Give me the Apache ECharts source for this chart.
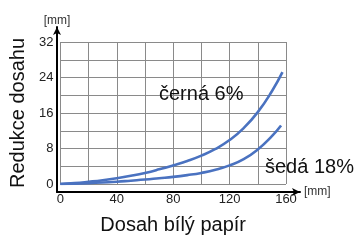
<!DOCTYPE html>
<html>
<head>
<meta charset="utf-8">
<script src="https://cdn.jsdelivr.net/npm/echarts@6/dist/echarts.min.js"></script>
<style>
  html, body { margin: 0; padding: 0; background: #fff; }
  #chart { width: 360px; height: 240px; }
</style>
</head>
<body>
<div id="chart"></div>
<script>
const xTicks = [0, 40, 80, 120, 160];
const yTicks = [0, 8, 16, 24, 32];
const blackX = [0, 10, 20, 30, 40, 50, 60, 70, 80, 90, 100, 110, 120, 130, 140, 150, 157.5];
const blackY = [0, 0.2, 0.5, 0.85, 1.3, 1.85, 2.5, 3.3, 4.2, 5.2, 6.4, 7.9, 9.9, 12.6, 16.2, 20.9, 25.2];
const greyX = [0, 10, 20, 30, 40, 50, 60, 70, 80, 90, 100, 110, 120, 130, 140, 150, 156.5];
const greyY = [0, 0.08, 0.2, 0.35, 0.5, 0.75, 1.0, 1.3, 1.6, 2.0, 2.5, 3.2, 4.2, 5.6, 7.8, 10.8, 13.2];
const seriesNames = ['černá 6%', 'šedá 18%'];

const font = '"Liberation Sans", Arial, sans-serif';
const blue = '#4a72c0';
let chart = echarts.init(document.getElementById('chart'), null, {renderer: 'canvas'});

function pairs(xs, ys) {
    return xs.map(function (x, i) { return [x, ys[i]]; });
}

const option = {
    animation: false,
    grid: [
        {left: 57, right: 74, top: 42, bottom: 48},
        {left: 57, right: 60, top: 27, bottom: 48}   // jen osy se šipkami
    ],
    xAxis: [{
        type: 'value', gridIndex: 0,
        min: xTicks[0], max: xTicks[xTicks.length - 1], interval: 40,
        axisLine: {show: false},
        axisTick: {show: false},
        axisLabel: {fontFamily: font, fontSize: 13, color: '#222', margin: 9},
        splitLine: {show: true, lineStyle: {color: '#8a8a8a', width: 1}},
        minorTick: {show: false, splitNumber: 2},
        minorSplitLine: {show: true, lineStyle: {color: '#8a8a8a', width: 1}},
        name: 'Dosah bílý papír', nameLocation: 'middle', nameGap: 31,
        nameTextStyle: {fontFamily: font, fontSize: 20, color: '#111'}
    }, {
        type: 'value', gridIndex: 1, min: 0, max: 1,
        axisLine: {show: true, symbol: ['none', 'arrow'], symbolSize: [6, 8],
            lineStyle: {color: '#000', width: 2}},
        axisTick: {show: false}, axisLabel: {show: false}, splitLine: {show: false},
        name: '[mm]', nameLocation: 'end', nameGap: 4,
        nameTextStyle: {fontFamily: font, fontSize: 12, color: '#333'},
        z: 5
    }],
    yAxis: [{
        type: 'value', gridIndex: 0,
        min: yTicks[0], max: yTicks[yTicks.length - 1], interval: 8,
        axisLine: {show: false},
        axisTick: {show: false},
        axisLabel: {fontFamily: font, fontSize: 13, color: '#222', margin: 7},
        splitLine: {show: true, lineStyle: {color: '#8a8a8a', width: 1}},
        minorTick: {show: false, splitNumber: 2},
        minorSplitLine: {show: true, lineStyle: {color: '#8a8a8a', width: 1}},
        name: 'Redukce dosahu', nameLocation: 'middle', nameGap: 24,
        nameTextStyle: {fontFamily: font, fontSize: 20, color: '#111'}
    }, {
        type: 'value', gridIndex: 1, min: 0, max: 1,
        axisLine: {show: true, symbol: ['none', 'arrow'], symbolSize: [6, 8],
            lineStyle: {color: '#000', width: 2}},
        axisTick: {show: false}, axisLabel: {show: false}, splitLine: {show: false},
        name: '[mm]', nameLocation: 'end', nameGap: 0,
        nameTextStyle: {fontFamily: font, fontSize: 12, color: '#333', align: 'center'},
        z: 5
    }],
    series: [{
        name: seriesNames[0], type: 'line', xAxisIndex: 0, yAxisIndex: 0,
        data: pairs(blackX, blackY), smooth: 0.5, showSymbol: false,
        lineStyle: {color: blue, width: 2.6}, z: 3
    }, {
        name: seriesNames[1], type: 'line', xAxisIndex: 0, yAxisIndex: 0,
        data: pairs(greyX, greyY), smooth: 0.5, showSymbol: false,
        lineStyle: {color: blue, width: 2.6}, z: 3
    }],
    graphic: [{
        type: 'text', left: 159, top: 84, z: 10,
        style: {text: seriesNames[0], font: '20px ' + font, fill: '#111'}
    }, {
        type: 'text', left: 265, top: 157, z: 10,
        style: {text: seriesNames[1], font: '20px ' + font, fill: '#111'}
    }]
};
chart.setOption(option, true);
</script>
</body>
</html>
